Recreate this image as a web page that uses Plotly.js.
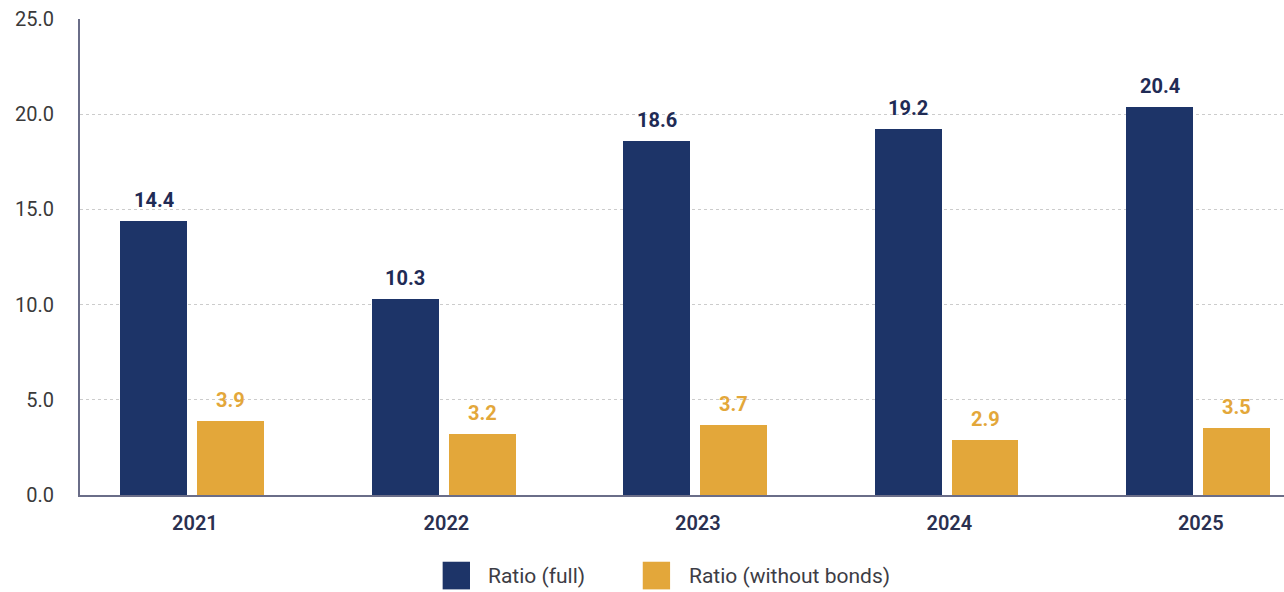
<!DOCTYPE html>
<html>
<head>
<meta charset="utf-8">
<script src="https://cdn.plot.ly/plotly-3.0.1.min.js"></script>
<style>html,body{margin:0;padding:0;background:#fff;}#chart{width:1284px;height:592px;}</style>
</head>
<body>
<div id="chart"></div>
<script>
const years = ['2021', '2022', '2023', '2024', '2025'];
const ratioFull = [14.4, 10.3, 18.6, 19.2, 20.4];
const ratioNoBonds = [3.9, 3.2, 3.7, 2.9, 3.5];
const seriesNames = ['Ratio (full)', 'Ratio (without bonds)'];
const yTicks = [0, 5, 10, 15, 20, 25];
const yTickText = ['0.0', '5.0', '10.0', '15.0', '20.0', '25.0'];

const NAVY = '#1d3468';
const GOLD = '#e3a73a';
const BW = 0.266;
const OFF_FULL = -0.297;
const OFF_NB = 0.009;

const traces = [
  {type: 'bar', name: seriesNames[0], x: years, y: ratioFull,
   width: BW, offset: OFF_FULL, marker: {color: NAVY}, hoverinfo: 'none', showlegend: false},
  {type: 'bar', name: seriesNames[1], x: years, y: ratioNoBonds,
   width: BW, offset: OFF_NB, marker: {color: GOLD}, hoverinfo: 'none', showlegend: false}
];

const annotations = [];
years.forEach((yr, i) => {
  annotations.push({x: i + OFF_FULL + BW / 2, y: ratioFull[i], xref: 'x', yref: 'y',
    text: ratioFull[i].toFixed(1), showarrow: false, yanchor: 'bottom', yshift: 7,
    font: {family: 'Roboto', size: 20, color: '#1f2b55', weight: 700}});
  annotations.push({x: i + OFF_NB + BW / 2, y: ratioNoBonds[i], xref: 'x', yref: 'y',
    text: ratioNoBonds[i].toFixed(1), showarrow: false, yanchor: 'bottom', yshift: 7,
    font: {family: 'Roboto', size: 20, color: GOLD, weight: 700}});
});

// custom legend (large square swatches, as in the reference)
const legendColors = [NAVY, GOLD];
const legendSwatchX = [0.3012, 0.4674];
const legendTextX = [0.3372, 0.5042];
const shapes = [];
seriesNames.forEach((nm, k) => {
  shapes.push({type: 'rect', xref: 'paper', yref: 'paper',
    x0: legendSwatchX[k], x1: legendSwatchX[k] + 0.0227, y0: -0.1983, y1: -0.1402,
    fillcolor: legendColors[k], line: {width: 0}});
  annotations.push({xref: 'paper', yref: 'paper', x: legendTextX[k], y: -0.1704,
    xanchor: 'left', yanchor: 'middle', showarrow: false, text: nm,
    font: {family: 'Roboto', size: 21, color: '#3d3d45'}});
});

const layout = {
  width: 1284, height: 592,
  margin: {l: 80, r: 0, t: 19, b: 97},
  paper_bgcolor: '#ffffff', plot_bgcolor: '#ffffff',
  font: {family: 'Roboto', color: '#333333'},
  showlegend: false,
  xaxis: {type: 'category', range: [-0.457, 4.331], showgrid: false, zeroline: false,
    showline: true, linecolor: '#6a6d88', linewidth: 2, ticks: '',
    ticklabelstandoff: 9,
    tickfont: {family: 'Roboto', size: 20, color: '#2a3050', weight: 600}},
  yaxis: {range: [0, 25], tickvals: yTicks, ticktext: yTickText, showgrid: true,
    gridcolor: '#cccccc', griddash: '3px,3px', gridwidth: 1, zeroline: false,
    showline: true, linecolor: '#6a6d88', linewidth: 2, ticks: '',
    ticklabelstandoff: 20,
    tickfont: {family: 'Roboto', size: 20, color: '#3a3a3a'}},
  annotations: annotations,
  shapes: shapes,
  bargap: 0
};

Plotly.newPlot('chart', traces, layout, {displayModeBar: false, staticPlot: true});
</script>
</body>
</html>
